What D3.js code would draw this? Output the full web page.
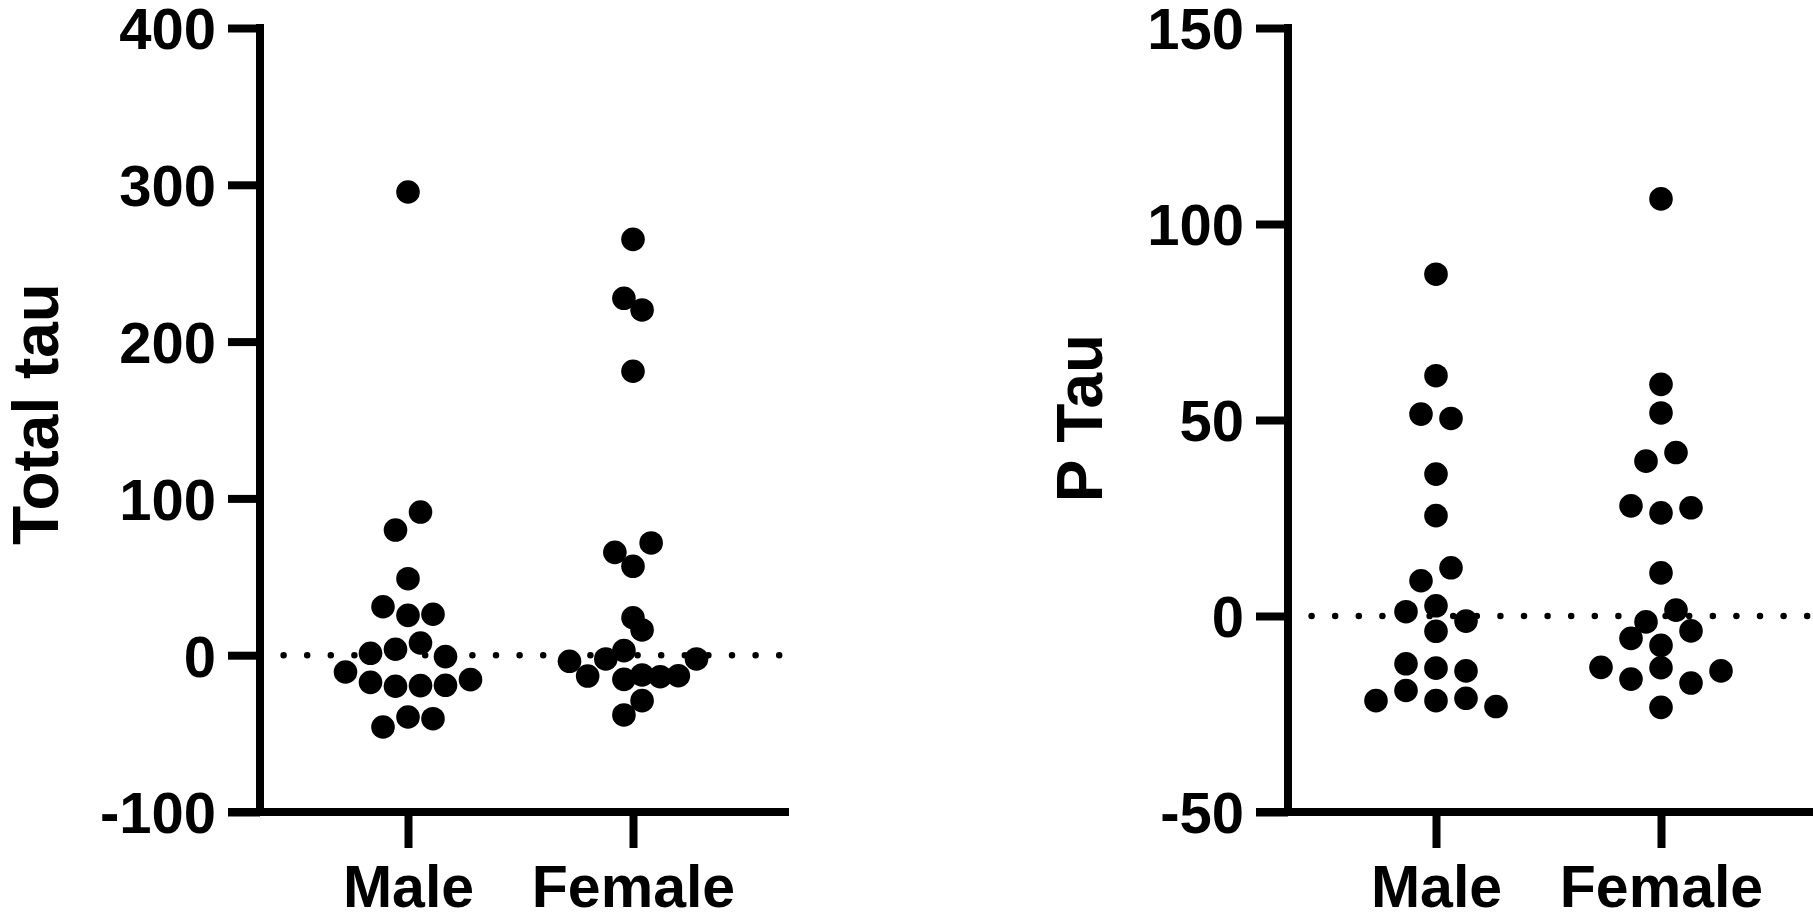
<!DOCTYPE html>
<html><head><meta charset="utf-8">
<script src="https://cdn.jsdelivr.net/npm/d3@7"></script>
<style>html,body{margin:0;padding:0;background:#fff;} svg{display:block;}</style>
</head><body>
<svg id="chart" width="1813" height="924"></svg>
<script>
// ---- data ----
const categories = ["Male", "Female"];
const totalTauMale   = [-45.8, -39.4, -40.5, -10.7, -17.3, -19.8, -19.4, -19.2, -15.6, 1.2, 3.8, 7.8, -0.9, 30.9, 25.4, 26.1, 48.8, 79.8, 91.3, 295.4];
const totalTauFemale = [-38.1, -29.0, -3.9, -13.3, -2.4, -15.4, -12.6, -13.7, -13.1, -2.4, 2.9, 16.1, 23.9, 65.6, 56.7, 71.6, 181.1, 227.6, 220.2, 265.2];
const pTauMale       = [-21.6, -19.0, -21.6, -21.0, -23.1, -12.2, -13.3, -14.0, 1.1, -3.9, -1.3, 2.6, 9.0, 12.3, 25.6, 36.2, 51.5, 50.4, 61.3, 87.2];
const pTauFemale     = [-23.3, -13.1, -16.1, -13.2, -17.1, -14.0, -5.7, -7.5, -3.8, -1.5, 1.5, 11.0, 28.1, 26.3, 27.6, 39.5, 41.7, 51.8, 59.1, 106.4];
const totalTauTicks = [-100, 0, 100, 200, 300, 400];
const pTauTicks = [-50, 0, 50, 100, 150];
const totalTauDomain = [-100, 400];
const pTauDomain = [-50, 150];
const yTitles = ["Total tau", "P Tau"];

// ---- layout / style ----
const FONT = "'Liberation Sans', Arial, Helvetica, sans-serif";
const svg = d3.select("#chart");
const TOP = 28, BOTTOM = 812, LW = 8, TICK = 32, XTICK = 36, R = 11.8;
const TICK_FS = 58, CAT_FS = 59, TITLE_FS = 64;

const panels = [
  {axisX: 260, xEnd: 789, domain: totalTauDomain, ticks: totalTauTicks, title: yTitles[0],
   titleX: 58, titleY: 414, series: [totalTauMale, totalTauFemale], spacing: 25, rowGap: 24},
  {axisX: 1288, xEnd: 1813, domain: pTauDomain, ticks: pTauTicks, title: yTitles[1],
   titleX: 1102, titleY: 418, series: [pTauMale, pTauFemale], spacing: 30, rowGap: 22}
];

function swarm(values, cx, y, base, maxSpan, rowGap) {
  const items = values.map((v, i) => ({v, i, py: y(v)}));
  const sorted = items.slice().sort((a, b) => a.v - b.v || a.i - b.i);
  const rows = [];
  let cur = null;
  for (const it of sorted) {
    if (cur && Math.abs(cur.start - it.py) < rowGap) cur.items.push(it);
    else { cur = {start: it.py, items: [it]}; rows.push(cur); }
  }
  const maxN = d3.max(rows, r => r.items.length);
  const sp = maxN > 1 ? Math.min(base, maxSpan / (maxN - 1)) : base;
  rows.forEach(r => {
    r.items.sort((a, b) => a.i - b.i);
    const n = r.items.length;
    r.items.forEach((it, k) => { it.px = cx + (k - (n - 1) / 2) * sp; });
  });
  return items;
}

panels.forEach(p => {
  const g = svg.append("g");
  const y = d3.scaleLinear().domain(p.domain).range([BOTTOM, TOP]);
  const x = d3.scalePoint().domain(categories).range([p.axisX + 148, p.axisX + 373]);

  // zero dotted line
  g.append("line")
    .attr("x1", p.axisX).attr("x2", p.xEnd)
    .attr("y1", y(0)).attr("y2", y(0))
    .attr("stroke", "#000").attr("stroke-width", 6.5)
    .attr("stroke-linecap", "round").attr("stroke-dasharray", "0 23.6");

  // points
  p.series.forEach((vals, ci) => {
    const pts = swarm(vals, x(categories[ci]), y, p.spacing, 127, p.rowGap);
    g.append("g").selectAll("circle").data(pts).join("circle")
      .attr("cx", d => d.px).attr("cy", d => d.py).attr("r", R).attr("fill", "#000");
  });

  // y axis
  const ya = g.append("g").attr("transform", `translate(${p.axisX},0)`)
    .call(d3.axisLeft(y).tickValues(p.ticks).tickSize(TICK).tickPadding(12).tickFormat(d => String(d)));
  ya.select(".domain").remove();
  ya.selectAll(".tick line").attr("stroke", "#000").attr("stroke-width", LW);
  ya.selectAll(".tick text").attr("fill", "#000").attr("font-family", FONT)
    .attr("font-weight", "bold").attr("font-size", TICK_FS).attr("dy", "0.36em");
  g.append("line").attr("x1", p.axisX).attr("x2", p.axisX)
    .attr("y1", TOP - LW / 2).attr("y2", BOTTOM + LW / 2)
    .attr("stroke", "#000").attr("stroke-width", LW);

  // x axis
  const xa = g.append("g").attr("transform", `translate(0,${BOTTOM})`)
    .call(d3.axisBottom(x).tickSize(XTICK));
  xa.select(".domain").remove();
  xa.selectAll(".tick line").attr("stroke", "#000").attr("stroke-width", LW);
  xa.selectAll(".tick text").attr("fill", "#000").attr("font-family", FONT)
    .attr("font-weight", "bold").attr("font-size", CAT_FS).attr("y", 95).attr("dy", 0);
  g.append("line").attr("x1", p.axisX - TICK).attr("x2", p.xEnd)
    .attr("y1", BOTTOM).attr("y2", BOTTOM)
    .attr("stroke", "#000").attr("stroke-width", LW);

  // y title
  g.append("text")
    .attr("transform", `translate(${p.titleX},${p.titleY}) rotate(-90)`)
    .attr("text-anchor", "middle")
    .attr("font-family", FONT).attr("font-weight", "bold").attr("font-size", TITLE_FS)
    .attr("fill", "#000").text(p.title);
});
</script>
</body></html>
